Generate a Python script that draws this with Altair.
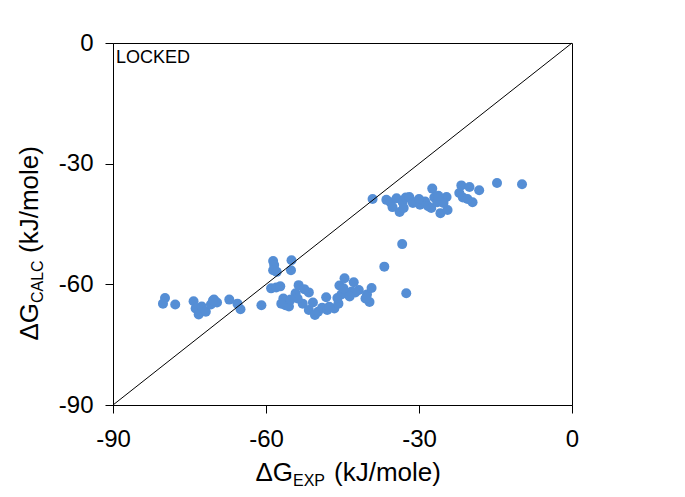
import altair as alt
import pandas as pd

# Experimental vs calculated binding free energies (kJ/mole)
dg_exp = [
    -79.8, -80.2, -77.8, -74.2, -73.8, -73.2, -72.6, -71.8, -70.8, -70.2, -69.6, -70.4,
    -67.2, -65.6, -65.0, -60.9,
    -58.6, -58.4, -58.6, -57.9, -55.0, -55.1, -59.0, -58.0, -57.2, -56.6, -56.2, -57.0,
    -55.5, -53.6, -54.2, -51.6, -52.8, -51.6, -50.4, -49.8, -49.0, -48.0, -47.6, -48.2,
    -53.8, -52.5, -50.8, -55.2, -46.6, -45.8,
    -45.6, -44.6, -42.8, -44.2, -41.8, -43.2, -45.2, -46.0, -40.2, -39.3, -39.7, -40.5,
    -42.5, -44.8, -43.6,
    -36.8, -33.3, -32.5,
    -39.1, -36.4, -35.6, -35.2, -34.4, -33.8, -33.2, -32.6, -31.9, -31.2, -30.5, -29.8,
    -28.8, -28.2, -27.4, -27.0, -27.6, -26.4, -25.8, -24.4, -24.6, -25.2, -33.0, -30.0,
    -26.2,
    -21.7, -22.1, -21.4, -20.1, -18.2, -19.5, -20.5, -14.7, -9.8,
]
dg_calc = [
    -63.4, -64.8, -65.0, -64.2, -66.0, -67.5, -65.5, -66.8, -65.0, -63.8, -64.5, -64.0,
    -63.8, -64.8, -66.2, -65.2,
    -54.2, -55.2, -56.5, -56.9, -54.0, -56.5, -61.0, -60.8, -60.5, -63.5, -65.2, -64.8,
    -65.5, -60.2, -62.2, -62.0, -64.8, -66.4, -67.6, -66.8, -65.8, -66.4, -65.6, -63.2,
    -63.5, -61.2, -64.5, -63.8, -66.0, -64.8,
    -60.3, -58.5, -59.5, -62.2, -61.4, -61.8, -62.5, -63.4, -62.5, -60.9, -64.4, -63.5,
    -62.0, -61.0, -63.0,
    -55.6, -50.0, -62.2,
    -38.8, -39.0, -39.6, -40.8, -38.6, -42.0, -39.6, -38.4, -38.3, -39.8, -39.5, -40.2,
    -39.4, -40.6, -36.2, -38.4, -41.0, -39.6, -42.3, -41.5, -38.3, -39.8, -41.0, -38.8,
    -38.0,
    -35.4, -37.3, -38.4, -35.8, -36.6, -39.6, -38.8, -34.8, -35.1,
]

diag_x = [-90, 0]
diag_y = [-90, 0]
axis_ticks = [-90, -60, -30, 0]

FONT = "Liberation Sans"
BLUE = "#558ED5"

pts = pd.DataFrame({"exp": dg_exp, "calc": dg_calc})
diag = pd.DataFrame({"exp": diag_x, "calc": diag_y})

xscale = alt.Scale(domain=[-90, 0], nice=False, zero=False)
yscale = alt.Scale(domain=[-90, 0], nice=False, zero=False)

xaxis = alt.Axis(values=axis_ticks, title=None, grid=False, labelFontSize=24,
                 labelFont=FONT, labelColor="black", tickSize=8, tickColor="black",
                 domainColor="black", labelPadding=14, labelFlush=False,
                 labelExpr="datum.value + ''")
yaxis = alt.Axis(values=axis_ticks, title=None, grid=False, labelFontSize=24,
                 labelFont=FONT, labelColor="black", tickSize=8, tickColor="black",
                 domainColor="black", labelPadding=12, labelFlush=False,
                 labelExpr="datum.value + ''")

points = alt.Chart(pts).mark_circle(size=100, color=BLUE, opacity=1).encode(
    x=alt.X("exp:Q", scale=xscale, axis=xaxis),
    y=alt.Y("calc:Q", scale=yscale, axis=yaxis),
)

line = alt.Chart(diag).mark_line(color="black", strokeWidth=1).encode(
    x=alt.X("exp:Q", scale=xscale),
    y=alt.Y("calc:Q", scale=yscale),
)

one = pd.DataFrame({"k": [0]})

def txt(text, x, y, size, align="left", angle=0, baseline="alphabetic"):
    return alt.Chart(one).mark_text(
        text=text, font=FONT, fontSize=size, align=align, baseline=baseline,
        angle=angle, color="black",
    ).encode(x=alt.value(x), y=alt.value(y))

locked = txt("LOCKED", 3, 20, 18)

# x-axis title with subscript
xa = 180
xt = [
    txt("\u0394G", xa, 438, 26, align="right"),
    txt("EXP", xa, 443, 16, align="left"),
    txt("(kJ/mole)", xa + 41, 438, 26, align="left"),
]
# y-axis title (rotated) with subscript
ya = 260
yt = [
    txt("\u0394G", -75, ya, 26, align="right", angle=270),
    txt("CALC", -70, ya, 16, align="left", angle=270),
    txt("(kJ/mole)", -75, ya - 50, 26, align="left", angle=270),
]

chart = alt.layer(points, line, locked, *xt, *yt).properties(
    width=459, height=362,
    autosize=alt.AutoSizeParams(type="none"),
    padding={"left": 105, "top": 35, "right": 105, "bottom": 84},
).configure_view(stroke="black", strokeWidth=1)

chart.save("out.html", embed_options={"renderer": "svg", "actions": False})
